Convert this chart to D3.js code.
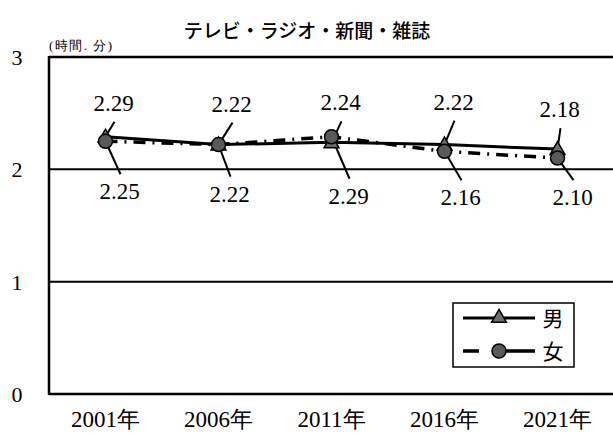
<!DOCTYPE html>
<html>
<head>
<meta charset="utf-8">
<script src="https://cdn.jsdelivr.net/npm/d3@7/dist/d3.min.js"></script>
<style>
body { margin: 0; background: #fff; }
svg { display: block; }
</style>
</head>
<body>
<script>
// data
const years = ["2001年", "2006年", "2011年", "2016年", "2021年"];
const male = [2.29, 2.22, 2.24, 2.22, 2.18];
const female = [2.25, 2.22, 2.29, 2.16, 2.10];
const yTicks = [0, 1, 2, 3];

// label placement relative to the point (dx, dy to text baseline)
const maleLabelOff = [[8, -26], [13, -33], [9, -32], [9, -35], [2, -32]];
const femaleLabelOff = [[14, 58], [11, 57], [17, 67], [16, 54], [15, 47]];

const serif = "'Liberation Serif', 'DejaVu Serif', 'Times New Roman', serif";
const w = 613, h = 435;
const svg = d3.select("body").append("svg")
  .attr("width", w)
  .attr("height", h);

const x = d3.scalePoint().domain(years).range([49, 614]).padding(0.5);
const y = d3.scaleLinear().domain([0, 3]).range([394, 57]);

// title
svg.append("text")
  .attr("x", 307).attr("y", 38)
  .attr("text-anchor", "middle")
  .attr("font-family", "'Noto Sans CJK JP', sans-serif")
  .attr("font-size", 19)
  .attr("font-weight", 500)
  .text("テレビ・ラジオ・新聞・雑誌");

svg.append("text")
  .attr("x", 49).attr("y", 50)
  .attr("font-family", serif)
  .attr("font-size", 13)
  .attr("letter-spacing", 1.5)
  .text("(時間. 分)");

// grid lines
svg.selectAll(".grid")
  .data(yTicks)
  .enter()
  .append("line")
  .attr("x1", 49).attr("x2", w)
  .attr("y1", d => y(d)).attr("y2", d => y(d))
  .attr("stroke", "#000")
  .attr("stroke-width", d => (d === 0 || d === 3) ? 2.5 : 2);

svg.append("line")
  .attr("x1", 49).attr("x2", 49)
  .attr("y1", y(3) - 1).attr("y2", y(0) + 1)
  .attr("stroke", "#000").attr("stroke-width", 2.5);

// y tick labels
svg.selectAll(".ytick")
  .data(yTicks)
  .enter()
  .append("text")
  .attr("font-family", serif)
  .attr("x", 17).attr("y", d => y(d) + 8)
  .attr("text-anchor", "middle")
  .attr("font-size", 22)
  .text(d => d);

// x labels
svg.selectAll(".xtick")
  .data(years)
  .enter()
  .append("text")
  .attr("font-family", serif)
  .attr("x", d => x(d)).attr("y", 427)
  .attr("text-anchor", "middle")
  .attr("font-size", 23)
  .text(d => d);

const line = d3.line()
  .x((d, i) => x(years[i]))
  .y(d => y(d));

svg.append("path")
  .datum(female)
  .attr("d", line)
  .attr("fill", "none")
  .attr("stroke", "#000")
  .attr("stroke-width", 3.5)
  .attr("stroke-dasharray", "12,7,2,7");

svg.append("path")
  .datum(male)
  .attr("d", line)
  .attr("fill", "none")
  .attr("stroke", "#000")
  .attr("stroke-width", 3);

// leader lines + labels
function labels(vals, off, upper) {
  vals.forEach((v, i) => {
    const px = x(years[i]), py = y(v);
    const lx = px + off[i][0], ly = py + off[i][1];
    svg.append("line")
      .attr("x1", lx + 1).attr("y1", upper ? ly + 11 : ly - 25)
      .attr("x2", px).attr("y2", py)
      .attr("stroke", "#000").attr("stroke-width", 2);
    svg.append("text")
      .attr("font-family", serif)
      .attr("x", lx).attr("y", ly)
      .attr("text-anchor", "middle")
      .attr("font-size", 23)
      .text(v.toFixed(2));
  });
}
labels(male, maleLabelOff, true);
labels(female, femaleLabelOff, false);

const tri = d3.symbol().type(d3.symbolTriangle).size(95);

function triangle(g, cx, cy) {
  g.append("path")
    .attr("d", tri())
    .attr("transform", "translate(" + cx + "," + (cy + 1) + ")")
    .attr("fill", "#6e6e6e")
    .attr("stroke", "#000")
    .attr("stroke-width", 1.5);
}
function circle(g, cx, cy) {
  g.append("circle")
    .attr("cx", cx).attr("cy", cy).attr("r", 7)
    .attr("fill", "#5a5a5a")
    .attr("stroke", "#000")
    .attr("stroke-width", 1.5);
}

male.forEach((v, i) => triangle(svg, x(years[i]), y(v)));
female.forEach((v, i) => circle(svg, x(years[i]), y(v)));

// legend
const lg = svg.append("g");
lg.append("rect")
  .attr("x", 453).attr("y", 303)
  .attr("width", 121).attr("height", 64)
  .attr("fill", "#fff")
  .attr("stroke", "#000").attr("stroke-width", 1.5);
lg.append("line")
  .attr("x1", 463).attr("x2", 535)
  .attr("y1", 318).attr("y2", 318)
  .attr("stroke", "#000").attr("stroke-width", 3);
triangle(lg, 499, 317);
lg.append("text")
  .attr("x", 553).attr("y", 326)
  .attr("text-anchor", "middle")
  .attr("font-family", "'Noto Sans CJK JP', sans-serif")
  .attr("font-size", 21)
  .text("男");
lg.append("line")
  .attr("x1", 463).attr("x2", 535)
  .attr("y1", 351).attr("y2", 351)
  .attr("stroke", "#000").attr("stroke-width", 3.5)
  .attr("stroke-dasharray", "16,19,40");
circle(lg, 499, 351);
lg.append("text")
  .attr("x", 553).attr("y", 359)
  .attr("text-anchor", "middle")
  .attr("font-family", "'Noto Sans CJK JP', sans-serif")
  .attr("font-size", 21)
  .text("女");
</script>
</body>
</html>
